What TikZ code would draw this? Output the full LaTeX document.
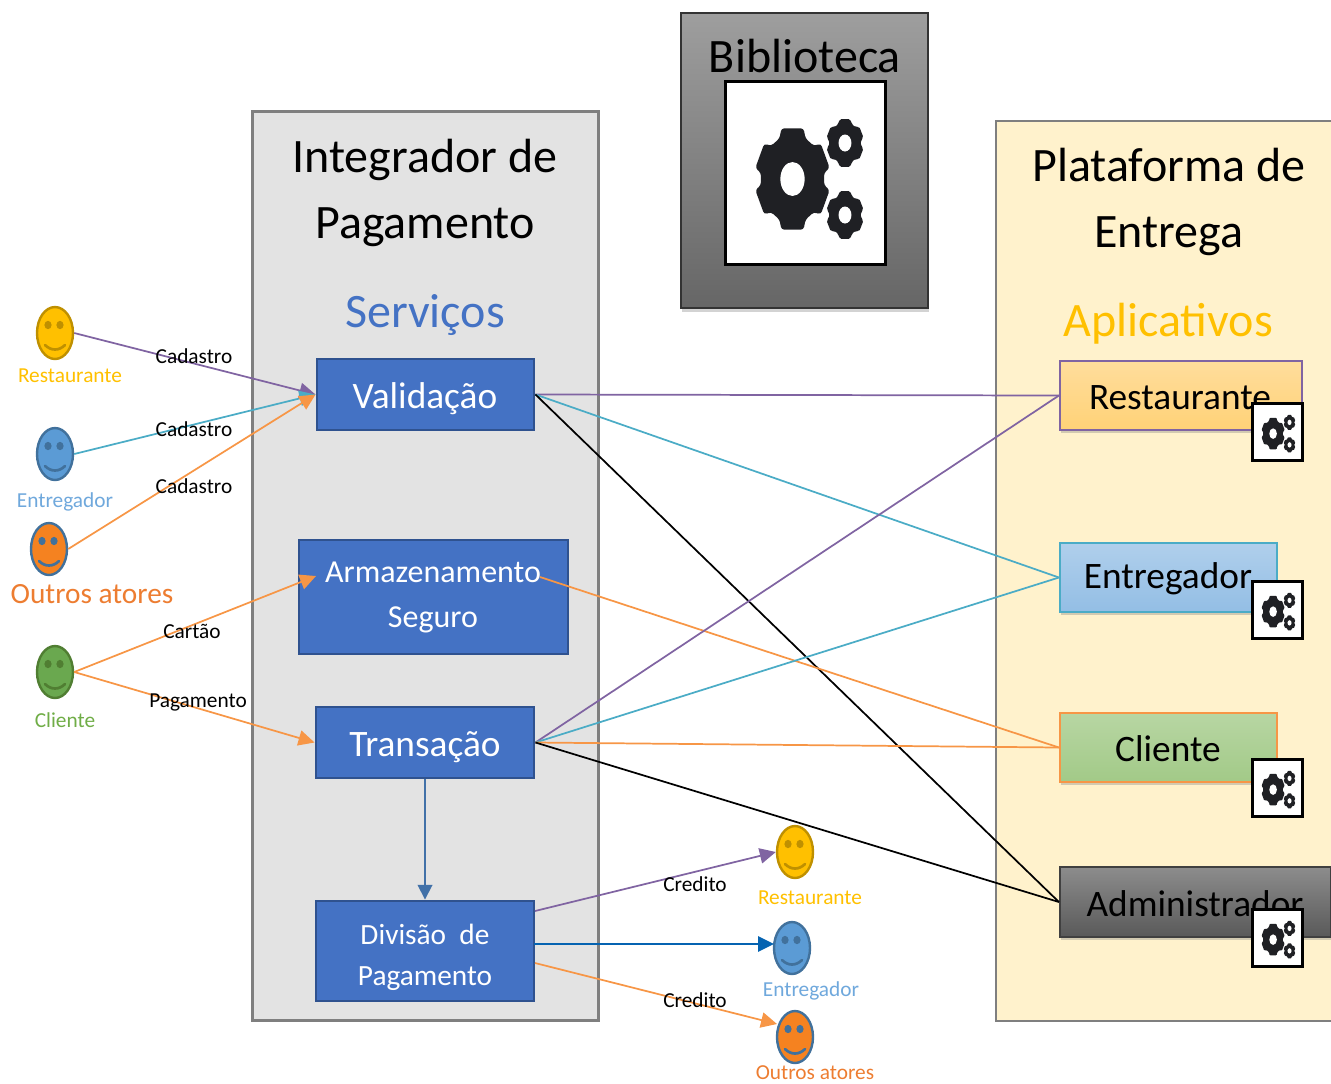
\documentclass[tikz,border=0pt]{standalone}
\usepackage{fontspec}
\setmainfont{Carlito}
\usetikzlibrary{shapes.geometric,arrows.meta,shadows}
\definecolor{cpurple}{HTML}{8064A2}
\definecolor{cteal}{HTML}{4BACC6}
\definecolor{corange}{HTML}{F79646}
\definecolor{cblueline}{HTML}{0563B1}
\definecolor{cboxblue}{HTML}{4472C4}
\definecolor{cboxedge}{HTML}{2F528F}
\definecolor{cgear}{HTML}{1F2024}
\definecolor{cyellow}{HTML}{FFC000}
\definecolor{cyedge}{HTML}{BF9000}
\definecolor{cbfill}{HTML}{5B9BD5}
\definecolor{cbedge}{HTML}{41719C}
\definecolor{cofill}{HTML}{F58220}
\definecolor{cgfill}{HTML}{6AA84F}
\definecolor{cgedge}{HTML}{507E32}
\definecolor{ctblue}{HTML}{6FA8DC}
\definecolor{ctgreen}{HTML}{70AD47}
\definecolor{ctorange}{HTML}{ED7D31}
\definecolor{cframe}{HTML}{7F7F7F}
\definecolor{crtop}{HTML}{FFDD9C}
\definecolor{crbot}{HTML}{FFD277}
\definecolor{cpanel}{HTML}{FFF2CC}
\newcommand{\fsz}[2]{\fontsize{#1}{#2}\selectfont}
\tikzset{
  conn/.style={line width=1.3pt},
  arr/.style={conn,-{Triangle[length=12pt,width=11.5pt]}},
  bluebox/.style={draw=cboxedge,fill=cboxblue,line width=2.2pt,inner sep=0pt,rectangle},
  bluetext/.style={text=white,align=center,inner sep=0pt},
  appbox/.style={rectangle,line width=1.6pt,inner sep=0pt,drop shadow={shadow xshift=1pt,shadow yshift=-2pt,opacity=.35}},
  apptext/.style={font=\fsz{28}{32},inner sep=0pt},
  small/.style={font=\fsz{16}{19},inner sep=0pt},
  title/.style={font=\fsz{36}{49.5},align=center,inner sep=0pt},
  actor/.style={ellipse,draw=#1,line width=1.8pt,minimum width=27pt,minimum height=39pt,inner sep=0pt},
  gearbox/.style={rectangle,draw=black,fill=white,line width=2.6pt,inner sep=0pt,anchor=north west}
}
\newcommand{\oneGear}[6]{%
  \begin{scope}[shift={(#1,#2)},xscale=#3,yscale=#4]
    \fill[cgear,rounded corners=#6]
      (73:1) -- (107:1) -- (114:0.84) -- (132:0.84)
      -- (138:1) -- (168:1) -- (172:0.84) -- (188:0.84)
      -- (192:1) -- (222:1) -- (228:0.84) -- (246:0.84)
      -- (253:1) -- (287:1) -- (294:0.84) -- (312:0.84)
      -- (318:1) -- (348:1) -- (352:0.84) -- (8:0.84)
      -- (12:1) -- (42:1) -- (48:0.84) -- (66:0.84) -- cycle;
    \fill[white] (0,0) ellipse ({#5} and {#5});
  \end{scope}}
\newcommand{\gearIcon}[4]{% name,x,y,scale
  \node[gearbox,minimum width=#4*160*0.75pt,minimum height=#4*183*0.75pt] (#1) at (#2-1.5,#3-1.5) {};
  \begin{scope}[shift={(#2,#3)},scale=#4]
    \oneGear{67.5}{98}{38}{53}{0.32}{#4*2.2pt}
    \oneGear{120}{62}{19}{25}{0.34}{#4*1.4pt}
    \oneGear{120}{134}{19}{25}{0.34}{#4*1.4pt}
  \end{scope}}
\newcommand{\actorface}[6]{% name,x,y,fill,edge,eyes
  \begin{scope}[shift={(#2,#3)}]
    \node[actor=#5,fill=#4] (#1) at (0,0) {};
    \fill[#6] (-7,-8) ellipse (3.6 and 4.2);
    \fill[#6] (5,-8) ellipse (3.6 and 4.2);
    \draw[#6,line width=2pt,line cap=round] (-10,12) .. controls (-4,18) and (4,18) .. (10,12);
  \end{scope}}
\begin{document}
\begin{tikzpicture}[x=0.75pt,y=-0.75pt]
\useasboundingbox (0,0) rectangle (1331,1083);
% large panels
\node[rectangle,draw=cframe,fill=black!11,line width=2.4pt,minimum width=346*0.75pt,minimum height=909*0.75pt,inner sep=0pt] (integ) at (425.5,566) {};
\fill[cpanel] (996,121) rectangle (1331,1021);
\coordinate (pa) at (1331,121);
\coordinate (pb) at (996,121);
\coordinate (pc) at (996,1021);
\coordinate (pd) at (1331,1021);
\draw[cframe,line width=2pt] (pa) -- (pb) -- (pc) -- (pd);
\node[rectangle,draw=black!80,top color=black!38,bottom color=black!60,line width=1.5pt,minimum width=247*0.75pt,minimum height=295*0.75pt,inner sep=0pt,drop shadow={shadow xshift=1pt,shadow yshift=-3pt,opacity=.35}] (bib) at (804.5,160.5) {};
\node[title] (bibt) at (805,56) {Biblioteca};
\gearIcon{bibicon}{725}{81}{1}
\node[title] (integt) at (425,193) {Integrador de\\Pagamento};
\node[title,text=cboxblue] (serv) at (425,315) {Serviços};
\node[title] (platt) at (1169,202) {Plataforma de\\Entrega};
\node[title,text=cyellow] (apps) at (1168,324) {Aplicativos};
% service boxes
\node[bluebox,minimum width=217*0.75pt,minimum height=71*0.75pt] (val) at (425.5,394.5) {};
\node[bluebox,minimum width=269*0.75pt,minimum height=114*0.75pt] (arm) at (433.5,597) {};
\node[bluebox,minimum width=218*0.75pt,minimum height=71*0.75pt] (tra) at (425,742.5) {};
\node[bluebox,minimum width=218*0.75pt,minimum height=100*0.75pt] (div) at (425,951) {};
\node[bluetext,font=\fsz{28}{32}] (tval) at (425,398.5) {Validação};
\node[bluetext,font=\fsz{24}{33.75}] (tarm) at (433,597.5) {Armazenamento\\Seguro};
\node[bluetext,font=\fsz{28}{32}] (ttra) at (425,747.5) {Transação};
\node[bluetext,font=\fsz{22}{30.75}] (tdiv) at (425,957) {Divisão~ de\\Pagamento};
% application boxes
\node[appbox,draw=cpurple,top color=crtop,bottom color=crbot,minimum width=242*0.75pt,minimum height=69*0.75pt] (arest) at (1181,395.5) {};
\node[appbox,draw=cteal,top color=ctblue!55,bottom color=ctblue!75,minimum width=217*0.75pt,minimum height=69*0.75pt] (aent) at (1168.5,577.5) {};
\node[appbox,draw=corange,top color=ctgreen!50,bottom color=ctgreen!65,minimum width=217*0.75pt,minimum height=69*0.75pt] (acli) at (1168.5,747.5) {};
\node[appbox,draw=black!75,top color=black!45,bottom color=black!65,minimum width=271*0.75pt,minimum height=70*0.75pt] (aadm) at (1195.5,902) {};
\node[apptext] (trest) at (1180,398) {Restaurante};
\node[apptext] (tent) at (1168,579) {Entregador};
\node[apptext] (tcli) at (1168,749) {Cliente};
\node[apptext] (tadm) at (1195,904) {Administrador};
% actors
\actorface{a1}{55}{333}{cyellow}{cyedge}{cyedge}
\actorface{a2}{55}{454}{cbfill}{cbedge}{cbedge}
\actorface{a3}{49}{549}{cofill}{cbedge}{cbedge}
\actorface{a4}{55}{672}{cgfill}{cgedge}{cgedge}
\actorface{b1}{795}{852}{cyellow}{cyedge}{cyedge}
\actorface{b2}{792}{948}{cbfill}{cbedge}{cbedge}
\actorface{b3}{795}{1037}{cofill}{cbedge}{cbedge}
% free ends
\coordinate (armin) at (316,576);
\coordinate (armout) at (540,577);
\coordinate (diva) at (535,911);
\coordinate (divb) at (534,944);
\coordinate (divc) at (535,963);
\coordinate (b2in) at (774,944);
\coordinate (b3in) at (777,1024);
% connectors
\draw[arr,cpurple] (a1.east) -- (val.west);
\draw[arr,cteal] (a2.east) -- (val.west);
\draw[arr,corange] (a3.east) -- (val.west);
\draw[arr,corange] (a4.east) -- (armin);
\draw[arr,corange] (a4.east) -- (tra.west);
\draw[conn,cpurple] (val.east) -- (arest.west);
\draw[conn,cteal] (val.east) -- (aent.west);
\draw[conn,black] (val.east) -- (aadm.west);
\draw[conn,corange] (armout) -- (acli.west);
\draw[conn,cpurple] (tra.east) -- (arest.west);
\draw[conn,cteal] (tra.east) -- (aent.west);
\draw[conn,corange] (tra.east) -- (acli.west);
\draw[conn,black] (tra.east) -- (aadm.west);
\draw[conn,cbedge!70!cboxblue,-{Triangle[length=11pt,width=11pt]}] (tra.south) -- (div.north);
\draw[arr,cpurple] (diva) -- (b1.west);
\draw[arr,cblueline] (divb) -- (b2in);
\draw[arr,corange] (divc) -- (b3in);
% gear icons
\gearIcon{g1}{1252}{403}{0.3125}
\gearIcon{g2}{1252}{581}{0.3125}
\gearIcon{g3}{1252}{759}{0.3125}
\gearIcon{g4}{1252}{909}{0.3125}
% labels
\node[small,text=cyellow] (l1) at (70,376) {Restaurante};
\node[small,text=ctblue] (l2) at (65,502) {Entregador};
\node[inner sep=0pt,font=\fsz{22}{26},text=ctorange] (l3) at (92,594) {Outros atores};
\node[small,text=ctgreen] (l4) at (65,720) {Cliente};
\node[small,text=cyellow] (l5) at (810,898) {Restaurante};
\node[small,text=ctblue] (l6) at (811,991) {Entregador};
\node[small,text=ctorange] (l7) at (815,1073) {Outros atores};
\node[small] (c1) at (194,356) {Cadastro};
\node[small] (c2) at (194,429) {Cadastro};
\node[small] (c3) at (194,486) {Cadastro};
\node[small] (c4) at (192,631) {Cartão};
\node[small] (c5) at (198,702) {Pagamento};
\node[small] (c6) at (695,884) {Credito};
\node[small] (c7) at (695,1000) {Credito};
\end{tikzpicture}
\end{document}
